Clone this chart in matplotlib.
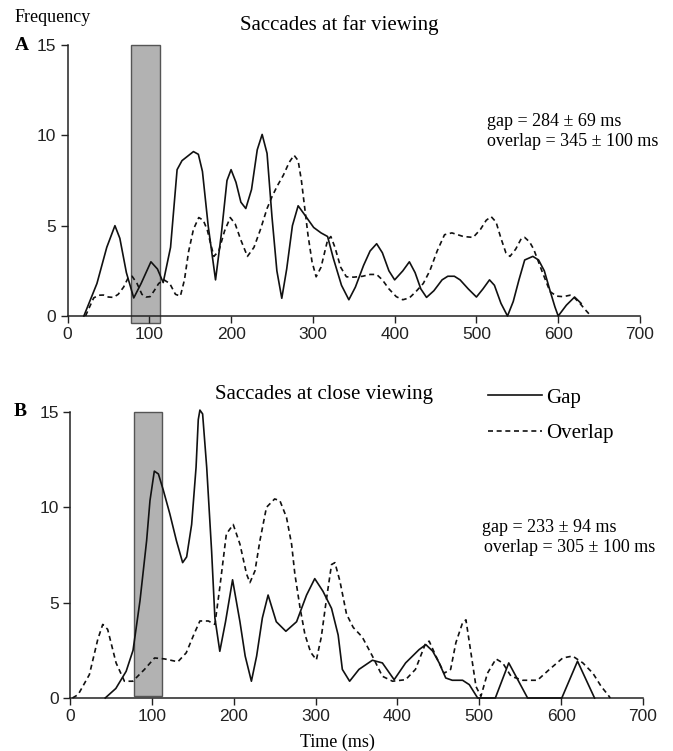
import matplotlib
matplotlib.use("Agg")
import matplotlib.pyplot as plt
from matplotlib.patches import Rectangle


# Panel A: saccades at far viewing (time in ms, frequency)
far_gap_t = [20, 36, 48, 58, 64, 72, 81, 90, 102, 110, 117, 126, 134, 140, 154, 160, 165,
             172, 181, 188, 195, 200, 206, 212, 218, 225, 232, 238, 244, 250, 256, 262,
             268, 275, 282, 290, 301, 310, 318, 325, 335, 344, 352, 362, 370, 378, 385,
             393, 400, 410, 418, 425, 432, 439, 448, 458, 465, 473, 480, 490, 500, 508,
             516, 522, 530, 538, 545, 552, 559, 569, 576, 583, 590, 596, 600, 610, 620, 628]
far_gap_f = [0, 1.8, 3.8, 5.0, 4.3, 2.4, 1.0, 1.8, 3.0, 2.6, 1.85, 3.8, 8.1, 8.6, 9.1, 8.95, 8.0,
             5.0, 2.0, 4.5, 7.5, 8.1, 7.4, 6.3, 5.95, 7.0, 9.2, 10.05, 9.0, 5.5, 2.5, 0.98,
             2.6, 5.0, 6.1, 5.6, 4.9, 4.6, 4.4, 3.2, 1.7, 0.9, 1.6, 2.8, 3.6, 4.0, 3.5,
             2.5, 2.0, 2.5, 3.0, 2.4, 1.5, 1.03, 1.4, 2.0, 2.2, 2.2, 2.0, 1.5, 1.05, 1.5,
             2.0, 1.7, 0.7, 0.0, 0.8, 2.0, 3.1, 3.3, 3.1, 2.5, 1.4, 0.5, 0.0, 0.6, 1.05, 0.7]

far_ovl_t = [22, 27, 32, 38, 44, 50, 56, 62, 68.6, 74, 79, 85, 91, 96, 101, 106, 111.5, 118,
             125, 132, 138, 143, 148, 154, 160.5, 166, 171, 175, 179, 185, 192, 199, 205,
             212, 220, 228, 236, 244, 250, 256.5, 264, 271, 277, 282, 286, 290, 294, 299,
             304, 310, 318, 322, 327, 334, 341, 350, 361, 370, 378, 385, 393, 402, 410,
             418, 426, 435, 443, 452, 461, 470, 484, 496, 505, 512, 518, 524, 530, 536,
             541, 548, 555, 559, 565, 570, 580, 590, 598, 606, 614.5, 620, 626.5, 633, 639]
far_ovl_f = [0, 0.5, 1.0, 1.15, 1.16, 1.05, 1.03, 1.2, 1.6, 2.1, 2.2, 1.8, 1.2, 1.05, 1.07, 1.4,
             1.8, 2.0, 1.8, 1.2, 1.1, 2.0, 3.55, 4.8, 5.45, 5.3, 4.75, 4.0, 3.3, 3.6, 4.7,
             5.45, 5.1, 4.2, 3.3, 3.8, 4.8, 5.95, 6.6, 7.2, 7.8, 8.5, 8.9, 8.6, 7.5, 6.0,
             4.5, 3.0, 2.17, 2.7, 4.2, 4.4, 3.8, 2.7, 2.17, 2.15, 2.2, 2.3, 2.3, 2.0, 1.5,
             1.07, 0.9, 1.0, 1.35, 1.8, 2.5, 3.6, 4.5, 4.6, 4.4, 4.35, 4.8, 5.3, 5.5, 5.2,
             4.3, 3.5, 3.3, 3.7, 4.3, 4.35, 4.1, 3.7, 2.5, 1.35, 1.1, 1.07, 1.15, 1.0, 0.7,
             0.35, 0.05]

# Panel B: saccades at close viewing
close_gap_t = [43, 56, 68.6, 77, 85.5, 93.6, 97.7, 103, 108, 114, 122, 130, 137.6, 142.5,
               148.6, 154, 156.7, 158.7, 162, 167, 173, 177, 183, 190, 198.6, 207.6, 214,
               221.6, 228, 235, 242, 252, 263.7, 276.8, 289, 299, 309, 319.5, 327.6, 332.7,
               341.6, 353, 369.4, 381.6, 396, 410, 426.5, 434.7, 443, 451, 459, 467, 479.6,
               487.8, 498, 519.6, 536, 559, 600.8, 620, 640.8]
close_gap_f = [0, 0.5, 1.4, 2.5, 5.1, 8.25, 10.35, 11.9, 11.75, 10.9, 9.65, 8.25, 7.1, 7.4,
               9.1, 12.1, 14.6, 15.1, 14.9, 12.1, 7.7, 4.2, 2.45, 4.0, 6.2, 4.0, 2.2,
               0.88, 2.2, 4.2, 5.4, 4.0, 3.5, 4.0, 5.4, 6.26, 5.6, 4.7, 3.3, 1.5,
               0.88, 1.5, 1.98, 1.84, 0.96, 1.84, 2.54, 2.8, 2.46, 1.84, 1.05, 0.93, 0.93,
               0.7, 0, 0, 1.84, 0, 0, 1.93, 0]

close_ovl_t = [3, 10, 23.7, 33.9, 40, 46, 56.3, 66.5, 76.7, 91, 103.3, 115.5, 131.8, 142, 152,
               158.7, 169, 177, 183, 191, 199.4, 207.6, 215.7, 219.8, 226, 232, 240, 250,
               256.4, 264.5, 270.7, 274.7, 281, 287, 294, 301, 307, 313, 319.5, 323.6, 329.7,
               337.8, 346, 357, 369.4, 381.6, 394, 410, 422, 434.7, 438.8, 447, 457, 465,
               471.4, 479.6, 483.7, 489.8, 496, 502, 510, 520.4, 528.6, 538.8, 553, 571,
               585.7, 602, 614, 626.5, 638.8, 649, 657, 660]
close_ovl_f = [0, 0.18, 1.23, 3.07, 3.86, 3.6, 1.84, 0.88, 0.88, 1.5, 2.1, 2.05, 1.9, 2.37, 3.4,
               4.04, 4.04, 3.86, 5.8, 8.6, 9.1, 8.07, 6.5, 6.05, 6.67, 8.25, 10.0, 10.44,
               10.35, 9.47, 8.07, 6.5, 4.74, 3.33, 2.4, 2.0, 3.2, 5.1, 7.0, 7.1, 6.14,
               4.4, 3.7, 3.2, 2.2, 1.14, 0.88, 0.96, 1.5, 2.9, 2.98, 2.2, 1.3, 1.5,
               2.9, 3.95, 4.1, 2.37, 0.6, 0.09, 1.3, 2.05, 1.84, 1.14, 0.93, 0.93,
               1.5, 2.1, 2.2, 1.84, 1.3, 0.6, 0.18, 0]

# shaded window (ms)
window = (78, 113)

x_ticks = [0, 100, 200, 300, 400, 500, 600, 700]
y_ticks = [0, 5, 10, 15]

SERIF = "Liberation Serif"
SANS = ["Liberation Sans Narrow", "Liberation Sans", "DejaVu Sans"]

W, H = 673, 751
fig = plt.figure(figsize=(W / 100, H / 100), dpi=100)


def fx(px):
    return px / W


def fy(py):
    return 1 - py / H


def make_axes(left, right, top, bottom):
    ax = fig.add_axes([fx(left), fy(bottom), fx(right) - fx(left), fy(top) - fy(bottom)])
    ax.set_xlim(0, 700)
    ax.set_ylim(0, 15)
    for s in ["top", "right"]:
        ax.spines[s].set_visible(False)
    for s in ["left", "bottom"]:
        ax.spines[s].set_linewidth(1.1)
        ax.spines[s].set_color("#222222")
    ax.set_xticks(x_ticks)
    ax.set_yticks(y_ticks)
    ax.tick_params(direction="out", length=5, width=1.0, color="#222222",
                   labelsize=12.5, labelcolor="#222222", pad=3)
    for lab in ax.get_xticklabels() + ax.get_yticklabels():
        lab.set_family(SANS)
    return ax


ax_a = make_axes(67.5, 640, 45, 316)
ax_b = make_axes(70, 643, 412, 698)

# grey window rectangles
ax_a.add_patch(Rectangle((window[0], -0.4), window[1] - window[0], 15.4,
                         facecolor="#b2b2b2", edgecolor="#555555", lw=1.0,
                         clip_on=False, zorder=1))
ax_b.add_patch(Rectangle((window[0], 0.1), window[1] - window[0], 14.9,
                         facecolor="#b2b2b2", edgecolor="#555555", lw=1.0,
                         clip_on=False, zorder=1))

dash = (0, (3.0, 2.2))
ax_a.plot(far_gap_t, far_gap_f, color="#111111", lw=1.2, zorder=3, clip_on=False)
ax_a.plot(far_ovl_t, far_ovl_f, color="#111111", lw=1.2, ls=dash, zorder=3, clip_on=False)
ax_b.plot(close_gap_t, close_gap_f, color="#111111", lw=1.2, zorder=3, clip_on=False,
          label="Gap")
ax_b.plot(close_ovl_t, close_ovl_f, color="#111111", lw=1.2, ls=dash, zorder=3,
          clip_on=False, label="Overlap")

leg = ax_b.legend(loc="upper left", bbox_to_anchor=(fx(488), fy(388)),
                  bbox_transform=fig.transFigure, frameon=False,
                  prop={"family": SERIF, "size": 15}, handlelength=2.6,
                  handletextpad=0.2, labelspacing=0.78, borderpad=0, borderaxespad=0)

# labels and titles
fig.text(fx(15), fy(18), "Frequency", family=SERIF, size=13, va="center", ha="left")
fig.text(fx(15), fy(46), "A", family=SERIF, size=14, weight="bold", va="center", ha="left")
fig.text(fx(14), fy(412), "B", family=SERIF, size=14, weight="bold", va="center", ha="left")
fig.text(fx(339), fy(25), "Saccades at far viewing", family=SERIF, size=15,
         va="center", ha="center")
fig.text(fx(324), fy(395), "Saccades at close viewing", family=SERIF, size=15,
         va="center", ha="center")
fig.text(fx(487), fy(121), "gap = 284 \u00b1 69 ms", family=SERIF, size=13,
         va="center", ha="left")
fig.text(fx(487), fy(141), "overlap = 345 \u00b1 100 ms", family=SERIF, size=13,
         va="center", ha="left")
fig.text(fx(482), fy(527), "gap = 233 \u00b1 94 ms", family=SERIF, size=13,
         va="center", ha="left")
fig.text(fx(484), fy(548), "overlap = 305 \u00b1 100 ms", family=SERIF, size=13,
         va="center", ha="left")
fig.text(fx(337), fy(742), "Time (ms)", family=SERIF, size=13, va="center", ha="center")

fig.savefig("out.png", dpi=100)
